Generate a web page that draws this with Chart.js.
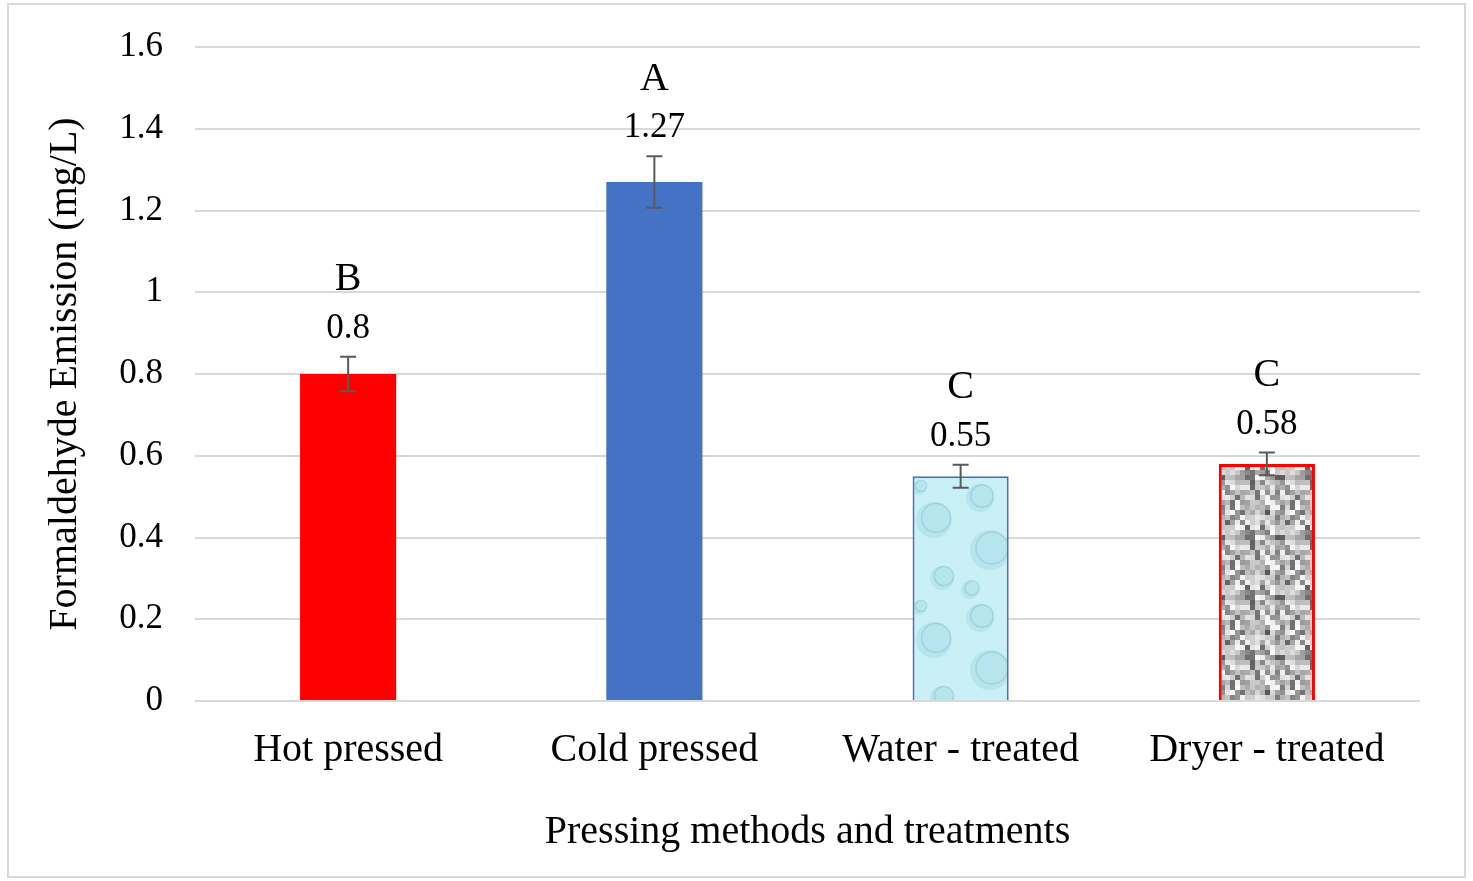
<!DOCTYPE html>
<html>
<head>
<meta charset="utf-8">
<script src="https://cdn.jsdelivr.net/npm/chart.js@4.4.1/dist/chart.umd.min.js"></script>
<style>
  html, body { margin: 0; padding: 0; background: #fff; }
  #wrap { width: 1473px; height: 881px; position: relative; }
</style>
</head>
<body>
<div id="wrap"><canvas id="chart"></canvas></div>
<script>
var categories = ['Hot pressed', 'Cold pressed', 'Water - treated', 'Dryer - treated'];
var values = [0.8, 1.27, 0.55, 0.58];
var errors = [0.042, 0.063, 0.028, 0.028];
var letters = ['B', 'A', 'C', 'C'];
var yTicks = [0, 0.2, 0.4, 0.6, 0.8, 1, 1.2, 1.4, 1.6];

var serif = "'Liberation Serif', 'Times New Roman', serif";

function hash(i) {
    var x = Math.sin(i * 12.9898 + 78.233) * 43758.5453;
    return x - Math.floor(x);
}

// bubbly light-cyan texture for the water treated bar
function waterPattern(ctx) {
    var c = document.createElement('canvas');
    c.width = 96; c.height = 120;
    var g = c.getContext('2d');
    g.fillStyle = '#c9f0f6';
    g.fillRect(0, 0, 96, 120);
    var blobs = [[20, 18, 14], [70, 40, 18], [30, 70, 20], [78, 98, 12], [10, 110, 9], [55, 8, 7]];
    blobs.forEach(function (b) {
        g.fillStyle = 'rgba(150,210,222,0.35)';
        g.beginPath(); g.arc(b[0], b[1], b[2], 0, Math.PI * 2); g.fill();
        g.strokeStyle = 'rgba(120,185,200,0.4)';
        g.lineWidth = 1.5;
        g.beginPath(); g.arc(b[0] + 2, b[1] - 2, b[2] * 0.8, 0, Math.PI * 2); g.stroke();
    });
    return ctx.createPattern(c, 'repeat');
}

// grey speckle texture for the dryer treated bar
function dryerPattern(ctx) {
    var c = document.createElement('canvas');
    c.width = 60; c.height = 60;
    var g = c.getContext('2d');
    var cell = 5, n = 0;
    for (var y = 0; y < 60; y += cell) {
        for (var x = 0; x < 60; x += cell) {
            var r = hash(n++);
            var v = Math.round(85 + Math.pow(r, 0.7) * 165);
            g.fillStyle = 'rgb(' + v + ',' + v + ',' + v + ')';
            g.fillRect(x, y, cell, cell);
        }
    }
    return ctx.createPattern(c, 'repeat');
}

var canvas = document.getElementById('chart');
var ctx = canvas.getContext('2d');

var frame = {
    id: 'frame',
    beforeDraw: function (chart) {
        var c = chart.ctx;
        c.save();
        c.fillStyle = '#fff';
        c.fillRect(0, 0, chart.width, chart.height);
        c.strokeStyle = '#d9d9d9';
        c.lineWidth = 2;
        c.strokeRect(8, 4, 1457, 873);
        c.restore();
    }
};

var annotate = {
    id: 'annotate',
    afterDatasetsDraw: function (chart) {
        var c = chart.ctx;
        var ys = chart.scales.y;
        var meta = chart.getDatasetMeta(0);
        c.save();
        meta.data.forEach(function (bar, i) {
            var x = bar.x;
            var top = ys.getPixelForValue(values[i] + errors[i]);
            var bot = ys.getPixelForValue(values[i] - errors[i]);
            c.strokeStyle = '#5a5a5a';
            c.lineWidth = 2;
            c.beginPath();
            c.moveTo(x, top); c.lineTo(x, bot);
            c.moveTo(x - 8, top); c.lineTo(x + 8, top);
            c.moveTo(x - 8, bot); c.lineTo(x + 8, bot);
            c.stroke();

            c.fillStyle = '#000';
            c.textAlign = 'center';
            c.textBaseline = 'middle';
            c.font = '35px ' + serif;
            c.fillText(String(values[i]), x, top - 28);
            c.font = '40px ' + serif;
            c.fillText(letters[i], x, top - 77);
        });
        c.restore();
    }
};

new Chart(ctx, {
    type: 'bar',
    data: {
        labels: categories,
        datasets: [{
            data: values,
            backgroundColor: ['#ff0000', '#4472c4', waterPattern(ctx), dryerPattern(ctx)],
            borderColor: ['#ff0000', '#4472c4', '#4472c4', '#ff0000'],
            borderWidth: [0, 0, 2, 3],
            categoryPercentage: 1,
            barPercentage: 0.314
        }]
    },
    options: {
        responsive: true,
        maintainAspectRatio: false,
        animation: false,
        layout: { padding: { left: 35, right: 53, top: 47, bottom: 20 } },
        plugins: { legend: { display: false }, tooltip: { enabled: false } },
        scales: {
            x: {
                grid: { display: false },
                border: { display: false },
                ticks: { color: '#000', font: { family: serif, size: 40 }, padding: 17, maxRotation: 0 },
                title: {
                    display: true,
                    text: 'Pressing methods and treatments',
                    color: '#000',
                    font: { family: serif, size: 40 },
                    padding: { top: 0, bottom: 5 }
                },
                afterFit: function (scale) { scale.height = 160; }
            },
            y: {
                min: 0,
                max: 1.6,
                afterBuildTicks: function (scale) {
                    scale.ticks = yTicks.map(function (v) { return { value: v }; });
                },
                grid: { color: '#d9d9d9', lineWidth: 2, drawTicks: false },
                border: { display: false },
                ticks: {
                    color: '#000',
                    font: { family: serif, size: 35 },
                    padding: 32,
                    callback: function (v) { return String(Math.round(v * 10) / 10); }
                },
                title: {
                    display: true,
                    text: 'Formaldehyde Emission (mg/L)',
                    color: '#000',
                    font: { family: serif, size: 40 },
                    padding: { top: 6, bottom: 0 }
                },
                afterFit: function (scale) {
                    scale.width = 160;
                    scale.paddingTop = 21;
                    scale.paddingBottom = 21;
                }
            }
        }
    },
    plugins: [frame, annotate]
});
</script>
</body>
</html>
